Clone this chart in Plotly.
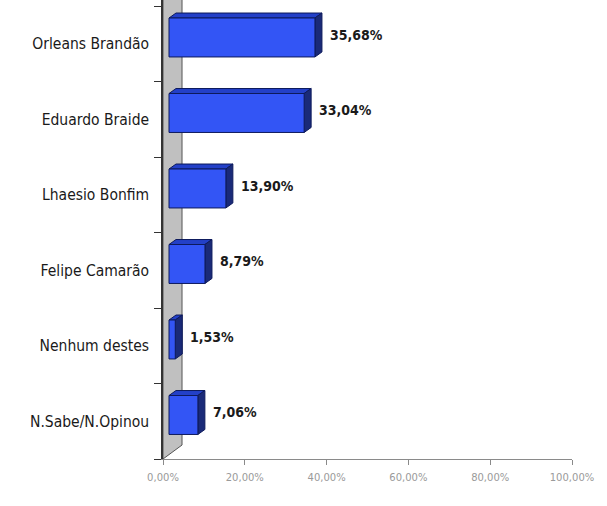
import plotly.graph_objects as go

categories = ["Orleans Brandão", "Eduardo Braide", "Lhaesio Bonfim",
              "Felipe Camarão", "Nenhum destes", "N.Sabe/N.Opinou"]
values = [35.68, 33.04, 13.90, 8.79, 1.53, 7.06]
value_labels = ["35,68%", "33,04%", "13,90%", "8,79%", "1,53%", "7,06%"]
x_ticks = [0, 20, 40, 60, 80, 100]
x_tick_labels = ["0,00%", "20,00%", "40,00%", "60,00%", "80,00%", "100,00%"]

# 3D styling constants (in axis units)
WALL_DX, WALL_DY = 4.65, 0.185   # depth of the back wall
FRONT = 1.47                      # bar front face offset from the axis
DDX, DDY = 1.71, 0.066            # bar depth
BOT, TOP = 0.325, 0.841           # bar front face within each category band

FRONT_COL = "#3355f5"
TOP_COL = "#2340c8"
SIDE_COL = "#1a2a78"
EDGE = "#0d1a5c"
LABEL_FONT = "DejaVu Sans Condensed"

n = len(categories)
fig = go.Figure()

# back wall
fig.add_trace(go.Scatter(
    x=[0, WALL_DX, WALL_DX, 0, 0],
    y=[0, WALL_DY, n + 1 + WALL_DY, n + 1, 0],
    fill="toself", fillcolor="#c0c0c0", mode="lines",
    line=dict(color="#555555", width=1), hoverinfo="skip", showlegend=False))

annotations = []
for k, (cat, v, lab) in enumerate(zip(categories, values, value_labels)):
    i = n - 1 - k
    yb, yt = i + BOT, i + TOP
    x0, x1 = FRONT, FRONT + v
    # top face
    fig.add_trace(go.Scatter(
        x=[x0, x1, x1 + DDX, x0 + DDX, x0],
        y=[yt, yt, yt + DDY, yt + DDY, yt],
        fill="toself", fillcolor=TOP_COL, mode="lines",
        line=dict(color=EDGE, width=1), hoverinfo="skip", showlegend=False))
    # side face
    fig.add_trace(go.Scatter(
        x=[x1, x1 + DDX, x1 + DDX, x1, x1],
        y=[yb, yb + DDY, yt + DDY, yt, yb],
        fill="toself", fillcolor=SIDE_COL, mode="lines",
        line=dict(color=EDGE, width=1), hoverinfo="skip", showlegend=False))
    # front face
    fig.add_trace(go.Scatter(
        x=[x0, x1, x1, x0, x0],
        y=[yb, yb, yt, yt, yb],
        fill="toself", fillcolor=FRONT_COL, mode="lines",
        line=dict(color=EDGE, width=1), hoverinfo="skip", showlegend=False))
    annotations.append(dict(
        x=x1 + DDX, y=(yb + yt + DDY) / 2, text=lab, showarrow=False,
        xanchor="left", yanchor="middle", xshift=6,
        font=dict(family=LABEL_FONT, size=14, color="#1a1a1a", weight="bold")))

fig.update_layout(
    width=607, height=506,
    margin=dict(l=163, r=35, t=0, b=47),
    paper_bgcolor="white", plot_bgcolor="white",
    showlegend=False,
    annotations=annotations,
    xaxis=dict(
        range=[0, 100], tickvals=x_ticks, ticktext=x_tick_labels,
        showgrid=False, zeroline=False, showline=True,
        linecolor="#8a8a8a", linewidth=1,
        ticks="outside", ticklen=5, tickcolor="#8a8a8a",
        ticklabelstandoff=4,
        tickfont=dict(family="DejaVu Sans", size=10, color="#9a9a9a"),
        fixedrange=True),
    yaxis=dict(
        range=[0, 459 / 75.5],
        tickvals=[n - 1 - k + 0.5 for k in range(n)], ticktext=categories,
        ticks="", showgrid=False, zeroline=False, showline=True,
        linecolor="#333333", linewidth=1.5,
        ticklabelstandoff=9,
        tickfont=dict(family=LABEL_FONT, size=15.5, color="#1a1a1a"),
        minor=dict(tick0=0, dtick=1, ticks="outside", ticklen=7,
                   tickcolor="#333333", showgrid=False),
        fixedrange=True),
)

fig.write_html("out.html", config={"displayModeBar": False},
               post_script="document.body.style.margin='0';document.body.style.overflow='hidden';")
